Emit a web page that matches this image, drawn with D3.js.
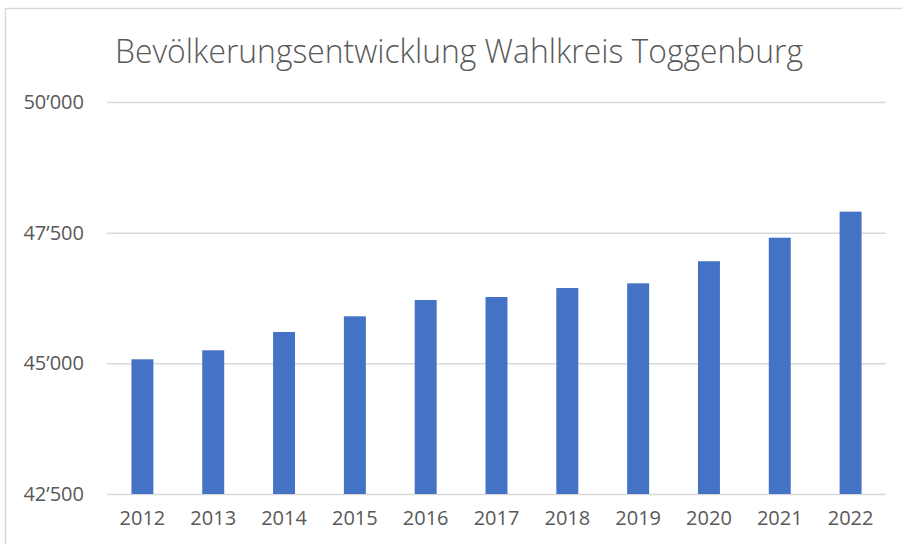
<!DOCTYPE html>
<html>
<head>
<meta charset="utf-8">
<script src="https://cdn.jsdelivr.net/npm/d3@7"></script>
<style>
  html, body { margin: 0; padding: 0; background: #fff; }
  svg { display: block; }
</style>
</head>
<body>
<svg id="chart" width="902" height="544"></svg>
<script>
const title = "Bevölkerungsentwicklung Wahlkreis Toggenburg";
const years = ["2012","2013","2014","2015","2016","2017","2018","2019","2020","2021","2022"];
const population = [45077, 45249, 45600, 45900, 46212, 46269, 46441, 46531, 46953, 47404, 47902];
const yTicks = [42500, 45000, 47500, 50000];
const yDomain = [42500, 50000];

const svg = d3.select("#chart");
const W = 902, H = 544;
const plot = { left: 107, right: 886, top: 102, bottom: 494 };
const textColor = "#595959";
const gridColor = "#d9d9d9";
const barColor = "#4472C4";
const font = "'Open Sans', 'DejaVu Sans', sans-serif";

svg.append("rect").attr("width", W).attr("height", H).attr("fill", "#fff");

// chart area border (top & left visible)
svg.append("rect")
  .attr("x", 5.5).attr("y", 8.5)
  .attr("width", W + 10).attr("height", H + 10)
  .attr("fill", "none").attr("stroke", gridColor).attr("stroke-width", 1.5);

const x = d3.scaleBand().domain(years).range([plot.left, plot.right])
  .paddingInner(0.69).paddingOuter(0.345);
const y = d3.scaleLinear().domain(yDomain).range([plot.bottom, plot.top]);

const fmt = v => d3.format(",")(v).replace(/,/g, "\u2019");

// y axis: gridlines and labels
const yAxis = d3.axisLeft(y).tickValues(yTicks).tickFormat(fmt)
  .tickSize(-(plot.right - plot.left)).tickPadding(23);
const gy = svg.append("g").attr("transform", `translate(${plot.left},0)`).call(yAxis);
gy.select(".domain").remove();
gy.selectAll(".tick line").attr("stroke", gridColor).attr("stroke-width", 1.5);
gy.selectAll(".tick text").attr("fill", textColor)
  .style("font-family", font).style("font-size", "20px");

// bars
svg.append("g").selectAll("rect").data(years).join("rect")
  .attr("x", d => x(d))
  .attr("width", x.bandwidth())
  .attr("y", (d, i) => y(population[i]))
  .attr("height", (d, i) => y(yDomain[0]) - y(population[i]))
  .attr("fill", barColor);

// x axis
const xAxis = d3.axisBottom(x).tickSize(0).tickPadding(17);
const gx = svg.append("g").attr("transform", `translate(0,${plot.bottom})`).call(xAxis);
gx.select(".domain").remove();
gx.selectAll(".tick text").attr("fill", textColor)
  .style("font-family", font).style("font-size", "20px");

// title
svg.append("text")
  .attr("x", 459).attr("y", 63)
  .attr("text-anchor", "middle")
  .attr("fill", textColor)
  .attr("textLength", 688)
  .attr("lengthAdjust", "spacingAndGlyphs")
  .style("font-family", font)
  .style("font-weight", 300)
  .style("font-size", "33px")
  .text(title);
</script>
</body>
</html>
